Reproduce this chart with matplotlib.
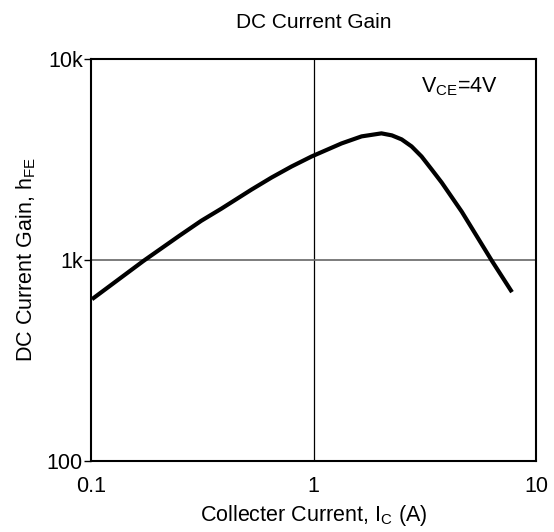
import matplotlib
matplotlib.use("Agg")
import matplotlib.pyplot as plt
from matplotlib.ticker import FixedLocator, NullLocator

plt.rcParams['font.family'] = ['Liberation Sans', 'DejaVu Sans']
plt.rcParams['mathtext.fontset'] = 'custom'
plt.rcParams['mathtext.rm'] = 'Liberation Sans'

# Curva (Ic en A, hFE)
ic = [0.101, 0.172, 0.249, 0.313, 0.385, 0.526, 0.647, 0.796, 0.98,
      1.337, 1.645, 2.02, 2.25, 2.49, 2.76, 3.06, 3.40, 3.77, 4.64, 6.34, 7.8]
hfe = [638, 989, 1318, 1567, 1799, 2239, 2570, 2917, 3273,
       3802, 4121, 4266, 4169, 3981, 3673, 3273, 2818, 2427, 1738, 989, 692]

xticks = [0.1, 1, 10]
xlabels = ['0.1', '1', '10']
yticks = [100, 1000, 10000]
ylabels = ['100', '1k', '10k']

fig = plt.figure(figsize=(5.54, 5.32), dpi=100)
ax = fig.add_axes([0.1643, 0.1335, 0.8032, 0.7556])

ax.set_xscale('log')
ax.set_yscale('log')
ax.set_xlim(0.1, 10)
ax.set_ylim(100, 10000)

ax.axvline(1, color='black', lw=0.9, zorder=1)
ax.axhline(1000, color='#666666', lw=1.2, zorder=1)
ax.plot(ic, hfe, color='black', lw=3, solid_capstyle='butt',
        solid_joinstyle='round', zorder=3)

ax.xaxis.set_major_locator(FixedLocator(xticks))
ax.set_xticklabels(xlabels)
ax.xaxis.set_minor_locator(NullLocator())
ax.yaxis.set_major_locator(FixedLocator(yticks))
ax.set_yticklabels(ylabels)
ax.yaxis.set_minor_locator(NullLocator())
ax.tick_params(axis='x', length=0, pad=11, labelsize=15.5)
ax.tick_params(axis='y', length=5, width=1, pad=1, labelsize=15.5)

for s in ax.spines.values():
    s.set_linewidth(1.5)

ax.text(0.829, 0.93, r'V$_{\mathregular{CE}}$=4V', transform=ax.transAxes,
        ha='center', va='center', fontsize=15.5)

ax.set_title('DC Current Gain', fontsize=15, pad=22)
ax.set_xlabel(r'Collecter Current, I$_{\mathregular{C}}$ (A)', fontsize=15.5, labelpad=4)
ax.set_ylabel(r'DC Current Gain, h$_{\mathregular{FE}}$', fontsize=15.5, labelpad=6)

fig.savefig('out.png', dpi=100)
